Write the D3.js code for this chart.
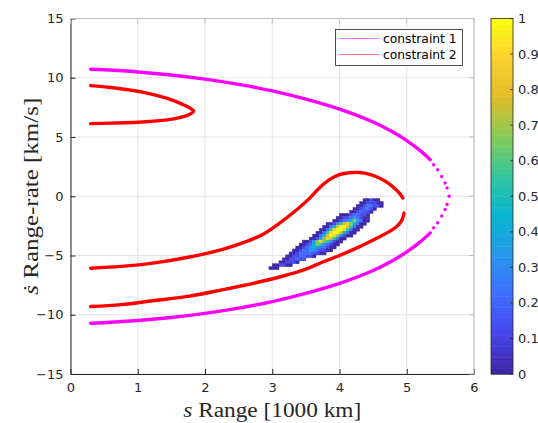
<!DOCTYPE html>
<html>
<head>
<meta charset="utf-8">
<script src="https://cdn.jsdelivr.net/npm/d3@7"></script>
<style>
  body { margin: 0; background: #fff; }
  svg { display: block; }
</style>
</head>
<body>
<svg id="chart" width="538" height="423"></svg>
<script>
// ---- axis ticks ----
const xTicks = [0, 1, 2, 3, 4, 5, 6];
const yTicks = [-15, -10, -5, 0, 5, 10, 15];
const cbTicks = [0, 0.1, 0.2, 0.3, 0.4, 0.5, 0.6, 0.7, 0.8, 0.9, 1];
const cbTickLabels = ["0", "0.1", "0.2", "0.3", "0.4", "0.5", "0.6", "0.7", "0.8", "0.9", "1"];

// ---- constraint 1 (range [1000 km], range-rate [km/s]) ----
const c1Upper = [[0.30, 10.72], [0.50, 10.67], [1.00, 10.49], [1.50, 10.23], [2.00, 9.88],
  [2.50, 9.44], [3.00, 8.89], [3.50, 8.20], [4.00, 7.36], [4.50, 6.27], [4.80, 5.40],
  [5.00, 4.70], [5.20, 3.85], [5.35, 3.09]];
const c1Lower = [[0.30, -10.72], [0.50, -10.67], [1.00, -10.49], [1.50, -10.23], [2.00, -9.88],
  [2.50, -9.44], [3.00, -8.89], [3.50, -8.20], [4.00, -7.36], [4.50, -6.27], [4.80, -5.40],
  [5.00, -4.70], [5.20, -3.85], [5.35, -3.09]];
// sparse samples near the turning point
const c1Tip = [[5.40, 2.66], [5.46, 2.24], [5.52, 1.67], [5.57, 1.12], [5.60, 0.69], [5.63, 0.00],
  [5.60, -0.69], [5.57, -1.12], [5.52, -1.67], [5.46, -2.24], [5.40, -2.66]];

// ---- constraint 2 ----
const c2Inner = [[0.30, 9.34], [0.60, 9.18], [1.00, 8.86], [1.25, 8.55], [1.49, 8.16], [1.65, 7.80],
  [1.76, 7.50], [1.83, 7.20], [1.76, 6.88], [1.62, 6.64], [1.40, 6.42], [1.00, 6.24],
  [0.60, 6.17], [0.30, 6.13]];
const c2OuterUpper = [[0.30, -6.07], [0.75, -5.92], [1.25, -5.62], [1.75, -5.15], [2.25, -4.50],
  [2.60, -3.85], [2.85, -3.25], [3.10, -2.30], [3.35, -1.20], [3.55, -0.20], [3.70, 0.70],
  [3.85, 1.40], [4.00, 1.82], [4.15, 1.98], [4.30, 2.00], [4.45, 1.85], [4.60, 1.52],
  [4.72, 1.12], [4.82, 0.65], [4.90, 0.20], [4.94, -0.15]];
const c2OuterLower = [[4.96, -1.42], [4.92, -2.10], [4.85, -2.55], [4.72, -3.05], [4.55, -3.55],
  [4.30, -4.25], [4.00, -5.00], [3.75, -5.55], [3.50, -6.15], [3.15, -6.75], [2.77, -7.28],
  [2.25, -7.90], [1.75, -8.45], [1.25, -8.80], [0.75, -9.15], [0.30, -9.31]];

// ---- normalised density of the estimate (2-D histogram) ----
// bins: range from densityS0 in steps of densityDs, range-rate from densityR0 downward in steps of densityDr
// '.' = empty bin, '0'..'9' = density level (level / 9)
const densityS0 = 2.95, densityDs = 0.05;
const densityR0 = -0.2, densityDr = 0.25;
const densityRows = [
  "............................00100.",
  "...........................0011100",
  "..........................00122110",
  ".........................0012210..",
  "........................0012110...",
  ".....................000122110....",
  "....................0011232100....",
  "...................00123463200....",
  ".................001357864200.....",
  "................002479975200......",
  "...............002589985200.......",
  "..............002589974200........",
  ".............002479863100.........",
  "............00136875200...........",
  "..........001368653100............",
  ".........001246532100.............",
  "........001234322100..............",
  ".......001223321100...............",
  "......00122221100.................",
  ".....001122110....................",
  "....0011211.......................",
  "...001110.........................",
  ".001100...........................",
  "000..............................."
];

// parula colour map stops (evenly spaced from 0 to 1)
const parulaStops = ["#3e26a8", "#4747eb", "#3e6fff", "#2797eb", "#08b5d0", "#31c69f",
  "#81cc59", "#dcbd29", "#fccf30", "#f9fb15"];

// ---- layout ----
const svg = d3.select("#chart");
const x = d3.scaleLinear().domain([0, 6]).range([70.5, 474]);
const y = d3.scaleLinear().domain([-15, 15]).range([374, 18.5]);
const cb = d3.scaleLinear().domain([0, 1]).range([374, 18.5]);
const cbX0 = 491, cbX1 = 513;
const axisColor = "#262626";

const parulaInterp = d3.scaleLinear()
  .domain(parulaStops.map((_, i) => i / (parulaStops.length - 1)))
  .range(parulaStops)
  .interpolate(d3.interpolateRgb);
const nLevels = 64;
const parula = v => parulaInterp(Math.min(nLevels - 1, Math.floor(v * nLevels)) / (nLevels - 1));

// grid
const grid = svg.append("g").attr("stroke", "#e4e4e4").attr("stroke-width", 1);
grid.selectAll(".gx").data(xTicks).join("line")
  .attr("x1", d => x(d)).attr("x2", d => x(d)).attr("y1", y(-15)).attr("y2", y(15));
grid.selectAll(".gy").data(yTicks).join("line")
  .attr("y1", d => y(d)).attr("y2", d => y(d)).attr("x1", x(0)).attr("x2", x(6));

// density cells
const cells = [];
densityRows.forEach((row, i) => {
  row.split("").forEach((ch, j) => {
    if (ch !== ".") cells.push({ i, j, v: +ch / 9 });
  });
});
svg.append("g").selectAll("rect").data(cells).join("rect")
  .attr("x", d => x(densityS0 + d.j * densityDs))
  .attr("y", d => y(densityR0 - d.i * densityDr))
  .attr("width", d => x(densityS0 + (d.j + 1) * densityDs) - x(densityS0 + d.j * densityDs))
  .attr("height", d => y(densityR0 - (d.i + 1) * densityDr) - y(densityR0 - d.i * densityDr))
  .attr("fill", d => parula(d.v))
  .attr("stroke", d => parula(d.v))
  .attr("stroke-width", 0.4);

// constraint curves
const line = d3.line().x(d => x(d[0])).y(d => y(d[1])).curve(d3.curveCatmullRom.alpha(0.5));
const curves = svg.append("g").attr("fill", "none").attr("stroke-width", 3.4)
  .attr("stroke-linecap", "round").attr("stroke-linejoin", "round");
[c1Upper, c1Lower].forEach(pts => curves.append("path").attr("d", line(pts)).attr("stroke", "#ff00ff"));
svg.append("g").selectAll("circle").data(c1Tip).join("circle")
  .attr("cx", d => x(d[0])).attr("cy", d => y(d[1])).attr("r", 1.7).attr("fill", "#ff00ff");
[c2Inner, c2OuterUpper, c2OuterLower].forEach(pts => curves.append("path").attr("d", line(pts)).attr("stroke", "#ff0000"));

// axes
const fontSans = "'DejaVu Sans', sans-serif";
const xAxis = svg.append("g").attr("transform", `translate(0,${y(-15)})`)
  .call(d3.axisBottom(x).tickValues(xTicks).tickFormat(d3.format("d"))
    .tickSizeInner(-5).tickSizeOuter(0).tickPadding(9));
const yAxis = svg.append("g").attr("transform", `translate(${x(0)},0)`)
  .call(d3.axisLeft(y).tickValues(yTicks).tickFormat(d3.format("d"))
    .tickSizeInner(-5).tickSizeOuter(0).tickPadding(7));
[xAxis, yAxis].forEach(g => {
  g.attr("font-family", fontSans).attr("font-size", 13);
  g.selectAll("path, line").attr("stroke", axisColor);
  g.selectAll("text").attr("fill", axisColor);
});

// box (top and right edges)
const box = svg.append("g").attr("stroke", "#bcbcbc").attr("stroke-width", 1);
box.append("line").attr("x1", x(0)).attr("x2", x(6)).attr("y1", y(15)).attr("y2", y(15));
box.append("line").attr("x1", x(6)).attr("x2", x(6)).attr("y1", y(15)).attr("y2", y(-15));
box.selectAll(".tr").data(yTicks).join("line")
  .attr("x1", x(6)).attr("x2", x(6) - 5).attr("y1", d => y(d)).attr("y2", d => y(d));
box.selectAll(".tt").data(xTicks).join("line")
  .attr("y1", y(15)).attr("y2", y(15) + 5).attr("x1", d => x(d)).attr("x2", d => x(d));

// axis labels
const fontSerif = "'Liberation Serif', 'DejaVu Serif', serif";
const xl = svg.append("text").attr("x", (x(0) + x(6)) / 2).attr("y", 417)
  .attr("text-anchor", "middle").attr("font-family", fontSerif).attr("font-size", 20)
  .attr("fill", axisColor).attr("textLength", 178).attr("lengthAdjust", "spacingAndGlyphs");
xl.append("tspan").attr("font-style", "italic").text("s");
xl.append("tspan").text(" Range [1000 km]");
const yl = svg.append("text")
  .attr("transform", `translate(37.5,${(y(-15) + y(15)) / 2}) rotate(-90)`)
  .attr("text-anchor", "middle").attr("font-family", fontSerif).attr("font-size", 20)
  .attr("fill", axisColor).attr("textLength", 197).attr("lengthAdjust", "spacingAndGlyphs");
yl.append("tspan").attr("font-style", "italic").text("ṡ");
yl.append("tspan").text(" Range-rate [km/s]");

// colorbar
const cbG = svg.append("g");
cbG.selectAll("rect").data(d3.range(nLevels)).join("rect")
  .attr("x", cbX0).attr("width", cbX1 - cbX0)
  .attr("y", k => cb((k + 1) / nLevels)).attr("height", k => cb(k / nLevels) - cb((k + 1) / nLevels) + 0.5)
  .attr("fill", k => parulaInterp(k / (nLevels - 1)));
cbG.append("rect").attr("x", cbX0).attr("y", cb(1)).attr("width", cbX1 - cbX0).attr("height", cb(0) - cb(1))
  .attr("fill", "none").attr("stroke", axisColor).attr("stroke-width", 0.8);
cbG.selectAll(".cbt").data(cbTicks).join("line")
  .attr("x1", cbX1).attr("x2", cbX1 - 3).attr("y1", d => cb(d)).attr("y2", d => cb(d))
  .attr("stroke", axisColor).attr("stroke-width", 0.8);
cbG.selectAll("text").data(cbTicks).join("text")
  .attr("x", cbX1 + 5).attr("y", d => cb(d)).attr("dy", "0.35em")
  .attr("font-family", fontSans).attr("font-size", 13).attr("fill", axisColor)
  .text((d, i) => cbTickLabels[i]);

// legend
const legendItems = [{ label: "constraint 1", color: "#ff00ff" }, { label: "constraint 2", color: "#ff0000" }];
const lg = svg.append("g");
lg.append("rect").attr("x", 335.5).attr("y", 29.5).attr("width", 127).attr("height", 36)
  .attr("fill", "#fff").attr("stroke", "#3a3a3a").attr("stroke-width", 0.9);
legendItems.forEach((it, k) => {
  const ly = 38.5 + k * 16;
  lg.append("line").attr("x1", 339).attr("x2", 379).attr("y1", ly).attr("y2", ly)
    .attr("stroke", it.color).attr("stroke-opacity", 0.55).attr("stroke-width", 1);
  lg.append("text").attr("x", 383).attr("y", ly).attr("dy", "0.35em")
    .attr("font-family", fontSans).attr("font-size", 12.3).attr("fill", "#000").text(it.label);
});
</script>
</body>
</html>
